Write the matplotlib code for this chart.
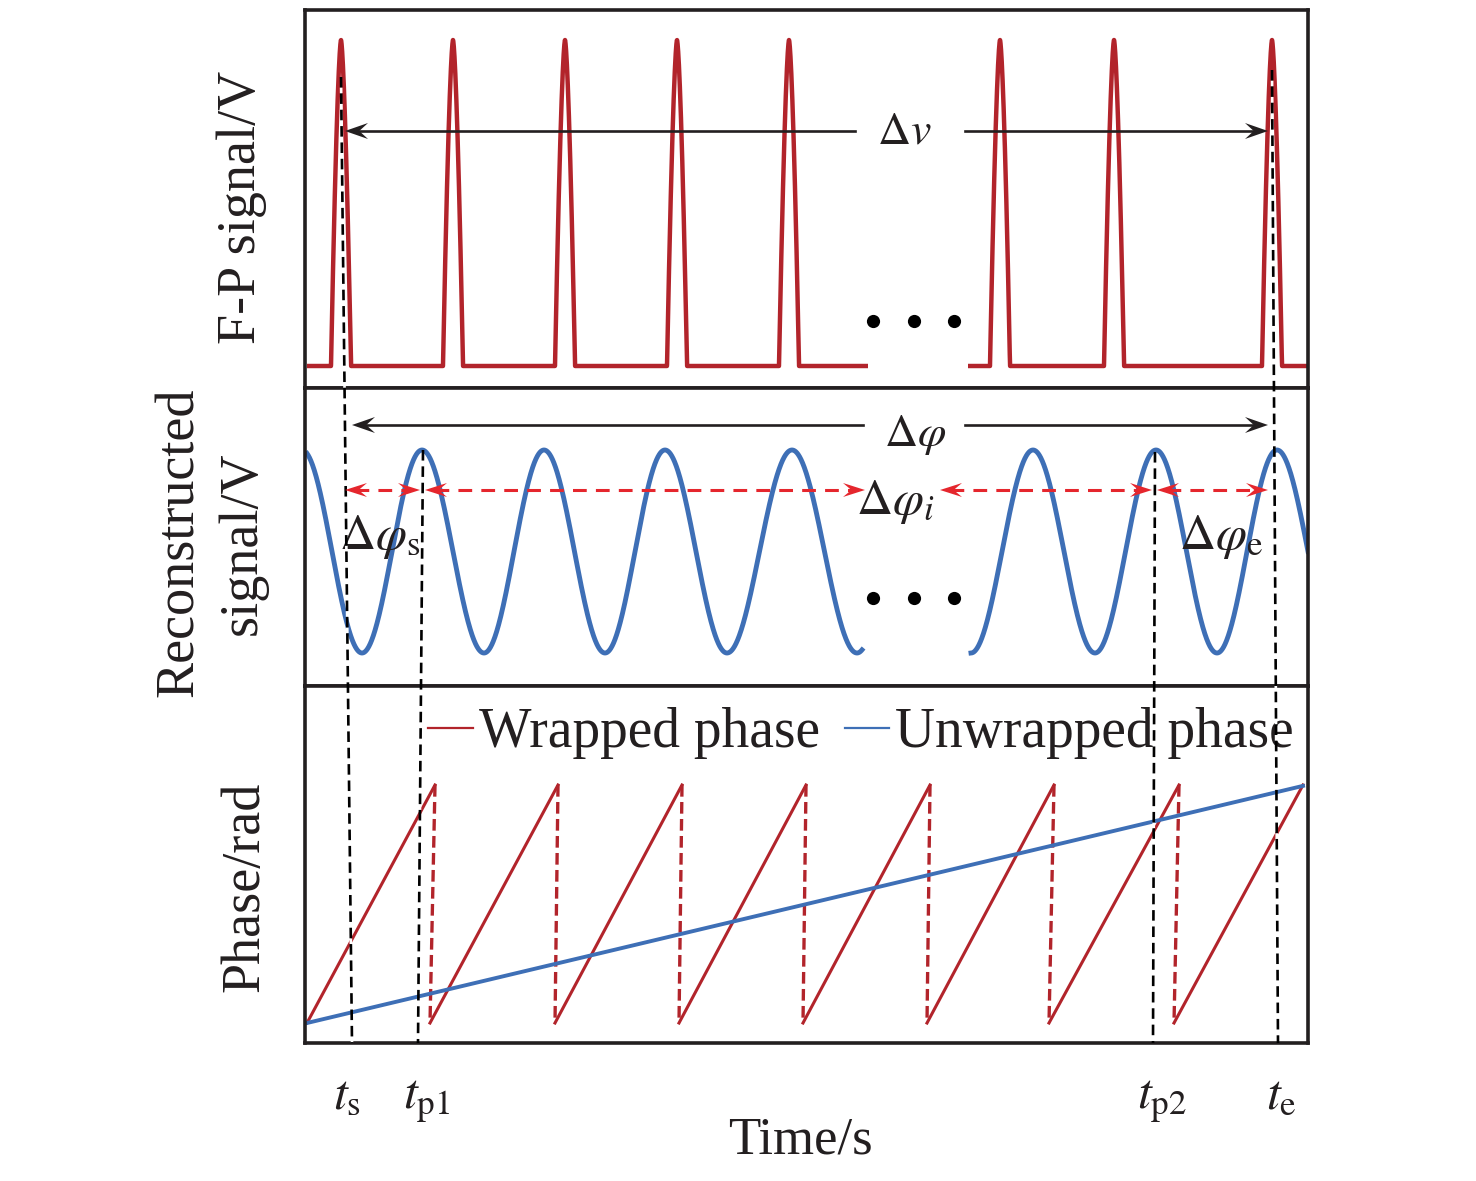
import numpy as np
import matplotlib
matplotlib.use("Agg")
import matplotlib.pyplot as plt
from matplotlib.patches import Polygon

plt.rcParams['font.family'] = ['Liberation Serif', 'DejaVu Serif']
plt.rcParams['mathtext.fontset'] = 'stix'

# ---------------- data (time axis in arbitrary units 0..1003) ----------------
fp_peaks = [36, 148, 260, 372, 484, 695, 809, 967]
fp_halfwidth = 10
fp_segments = [(2, 563), (663, 1003)]

wave_left_ext_x = [-3, 57, 117, 179, 239, 300, 360, 422, 487, 552, 615]
wave_left_ext_y = [1, -1, 1, -1, 1, -1, 1, -1, 1, -1, 1]
wave_right_ext_x = [604, 666, 728, 790, 851, 912, 972, 1034]
wave_right_ext_y = [1, -1, 1, -1, 1, -1, 1, -1]
wave_segments = [(2, 557), (666, 1003)]

ramp_bottom_x = [2, 125, 250, 374, 498, 622, 744, 869]
ramp_top_x = [130, 253, 377, 501, 625, 749, 874, 998]
phase_top = 2 * np.pi
unwrapped_x = [2, 998]
unwrapped_y = [0.0, 6.26]

legend_labels = ['Wrapped phase', 'Unwrapped phase']

# marker (dashed) lines in figure pixel coords: (x_top, y_top, x_bottom)
marker_lines = [(341, 77, 352), (423, 450, 418), (1155, 452, 1153), (1272, 70, 1278)]
marker_labels = [r'$t_{\mathrm{s}}$', r'$t_{\mathrm{p1}}$', r'$t_{\mathrm{p2}}$', r'$t_{\mathrm{e}}$']
marker_label_x = [347, 427, 1162, 1281]

RED = '#B2242B'
BLUE = '#3E6FB6'
BRIGHT_RED = '#E5262D'
FRAME = '#231F20'

W, H = 1476, 1181
fig = plt.figure(figsize=(W / 100, H / 100), dpi=100)

def add_panel(top_px, bottom_px):
    ax = fig.add_axes([305 / W, 1 - bottom_px / H, 1003 / W, (bottom_px - top_px) / H])
    ax.set_xticks([]); ax.set_yticks([])
    for s in ax.spines.values():
        s.set_linewidth(2.6); s.set_color(FRAME)
    ax.set_xlim(0, 1003)
    return ax

# ---------------- panel 1: F-P signal ----------------
ax1 = add_panel(10, 388)
for (a, b) in fp_segments:
    x = np.linspace(a, b, 6000)
    y = np.zeros_like(x)
    for p in fp_peaks:
        d = np.abs(x - p) / fp_halfwidth
        y = np.maximum(y, np.clip(1 - d ** 1.55, 0, None))
    ax1.plot(x, y, color=RED, lw=3.2, solid_joinstyle='round', solid_capstyle='butt')
ax1.set_ylim(-(388 - 366) / 326, 1 + (40 - 10) / 326)

# ---------------- panel 2: reconstructed signal ----------------
ax2 = add_panel(388, 686)
def cos_interp(ex, ey, x):
    ex = np.asarray(ex, float); ey = np.asarray(ey, float)
    i = np.clip(np.searchsorted(ex, x) - 1, 0, len(ex) - 2)
    u = (x - ex[i]) / (ex[i + 1] - ex[i])
    return ey[i] + (ey[i + 1] - ey[i]) * (1 - np.cos(np.pi * u)) / 2
for (a, b), ex, ey in zip(wave_segments, [wave_left_ext_x, wave_right_ext_x],
                          [wave_left_ext_y, wave_right_ext_y]):
    x = np.linspace(a, b, 2000)
    ax2.plot(x, cos_interp(ex, ey, x), color=BLUE, lw=3.5)
ax2.set_ylim(-(686 - 551.5) / 101.5, (551.5 - 388) / 101.5)

# ---------------- panel 3: phase ----------------
ax3 = add_panel(686, 1043)
for i, (b, t) in enumerate(zip(ramp_bottom_x, ramp_top_x)):
    ax3.plot([b, t], [0, phase_top], color=RED, lw=2.2,
             label=legend_labels[0] if i == 0 else None)
    if i + 1 < len(ramp_bottom_x):
        ax3.plot([t, ramp_bottom_x[i + 1]], [phase_top, 0], color=RED, lw=2.4,
                 dashes=(3.5, 1.6))
ax3.plot(unwrapped_x, unwrapped_y, color=BLUE, lw=2.8, label=legend_labels[1])
ax3.set_ylim(-(1043 - 1023) / 37.88, phase_top + (785 - 686) / 37.88)
leg = ax3.legend(loc='center', bbox_to_anchor=(861 / W, 1 - 733 / H),
                 bbox_transform=fig.transFigure, ncol=2, frameon=False,
                 fontsize=40, handlelength=0.8, handletextpad=0.11,
                 columnspacing=0.45, borderpad=0, borderaxespad=0)
for h in leg.get_lines():
    h.set_linewidth(1.6)
for t in leg.get_texts():
    t.set_color(FRAME)

# ---------------- overlay for annotations ----------------
ov = fig.add_axes([0, 0, 1, 1], zorder=10)
ov.set_xlim(0, W); ov.set_ylim(H, 0); ov.axis('off'); ov.patch.set_visible(False)

def arrowhead(x, y, direction, color, L=23, Wd=8):
    pts = [(x, y), (x - direction * L, y - Wd), (x - direction * 0.62 * L, y),
           (x - direction * L, y + Wd)]
    ov.add_patch(Polygon(pts, closed=True, color=color, lw=0, zorder=12))

def black_arrow(y, x0, x1, gap0, gap1):
    ov.plot([x0 + 10, gap0], [y, y], color=FRAME, lw=1.9)
    ov.plot([gap1, x1 - 10], [y, y], color=FRAME, lw=1.9)
    arrowhead(x0, y, -1, FRAME)
    arrowhead(x1, y, 1, FRAME)

black_arrow(131, 345, 1268, 855, 965)
black_arrow(425, 352, 1268, 863, 965)

def red_arrow(y, x0, x1, left=True, right=True):
    ov.plot([x0 + (10 if left else 0), x1 - (10 if right else 0)], [y, y],
            color=BRIGHT_RED, lw=2.2, dashes=(4.5, 3.0))
    if left:
        arrowhead(x0, y, -1, BRIGHT_RED, L=22, Wd=7)
    if right:
        arrowhead(x1, y, 1, BRIGHT_RED, L=22, Wd=7)

red_y = 490
red_arrow(red_y, 345, 420)
red_arrow(red_y, 425, 865)
red_arrow(red_y, 940, 1152)
red_arrow(red_y, 1157, 1268)

for (xt, yt, xb) in marker_lines:
    ov.plot([xt, xb], [yt, 1043], color='black', lw=1.9, dashes=(4.0, 2.2),
            gapcolor='white', zorder=11)

# ellipsis dots
for yy in (321, 598):
    ov.plot([873, 914, 954], [yy] * 3, 'o', color='black', ms=9.5, mec='none')

# math labels
ov.text(877, 144, r'$\Delta v$', fontsize=33, ha='left', va='baseline', color=FRAME)
ov.text(884, 446, r'$\Delta\varphi$', fontsize=33, ha='left', va='baseline', color=FRAME)
ov.text(856, 514, r'$\Delta\varphi_{i}$', fontsize=36, ha='left', va='baseline', color=FRAME)
ov.text(339, 549, r'$\Delta\varphi_{\mathrm{s}}$', fontsize=36, ha='left', va='baseline', color=FRAME)
ov.text(1179, 549, r'$\Delta\varphi_{\mathrm{e}}$', fontsize=36, ha='left', va='baseline', color=FRAME)

for lab, x in zip(marker_labels, marker_label_x):
    ov.text(x, 1108, lab, fontsize=36, ha='center', va='baseline', color=FRAME)

ov.text(800, 1153, 'Time/s', fontsize=38, ha='center', va='baseline', color=FRAME)
ov.text(242, 207, 'F-P signal/V', fontsize=39, rotation=90, ha='center', va='center', color=FRAME)
ov.text(180, 542, 'Reconstructed', fontsize=39, rotation=90, ha='center', va='center', color=FRAME)
ov.text(242, 543, 'signal/V', fontsize=39, rotation=90, ha='center', va='center', color=FRAME)
ov.text(245, 887, 'Phase/rad', fontsize=39, rotation=90, ha='center', va='center', color=FRAME)

fig.savefig('out.png', dpi=100)
